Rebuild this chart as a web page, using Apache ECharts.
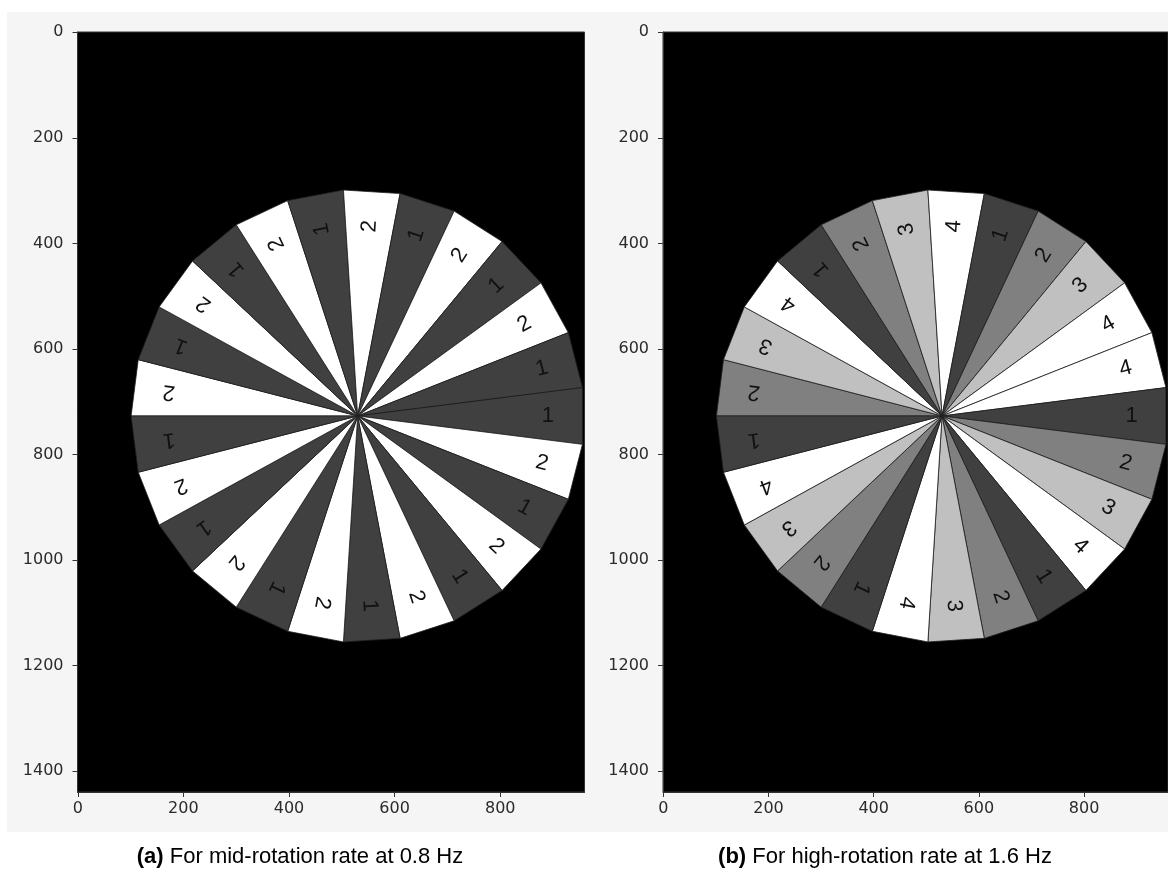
<!DOCTYPE html>
<html>
<head>
<meta charset="utf-8">
<script src="https://cdn.jsdelivr.net/npm/echarts@6/dist/echarts.min.js"></script>
<style>
  html, body { margin: 0; padding: 0; background: #ffffff; }
  #chart { width: 1168px; height: 874px; }
</style>
</head>
<body>
<div id="chart"></div>
<script>
// ---- data ----
// sector labels, clockwise (screen) starting at the left horizontal spoke
const sectorLabelsA = [2,1,2,1,2,1,2,1,2,1,2,1,1,2,1,2,1,2,1,2,1,2,1,2,1];
const sectorLabelsB = [2,3,4,1,2,3,4,1,2,3,4,4,1,2,3,4,1,2,3,4,1,2,3,4,1];
// grey level of each label value
const shadeA = {1: '#404040', 2: '#ffffff'};
const shadeB = {1: '#404040', 2: '#808080', 3: '#c0c0c0', 4: '#ffffff'};
// wheel geometry in image pixels
const wheelCenter = [530, 727];
const wheelRadius = 429;
const wheelStartAngle = 180;
const labelRadiusFraction = 0.84;
// image extent and tick labels
const imageWidth = 960;
const imageHeight = 1440;
const xTicks = [0, 200, 400, 600, 800];
const yTicks = [0, 200, 400, 600, 800, 1000, 1200, 1400];
const captionA = 'For mid-rotation rate at 0.8 Hz';
const captionB = 'For high-rotation rate at 1.6 Hz';

function makeRender(labels, shades) {
  return function (params, api) {
    const k = api.value(0);
    const lab = api.value(1);
    const n = labels.length;
    const step = 360 / n;
    const rad = Math.PI / 180;
    const a0 = (wheelStartAngle + step * k) * rad;
    const a1 = (wheelStartAngle + step * (k + 1)) * rad;
    const am = (a0 + a1) / 2;
    const cx = wheelCenter[0], cy = wheelCenter[1], R = wheelRadius;
    const c = api.coord([cx, cy]);
    const p0 = api.coord([cx + R * Math.cos(a0), cy + R * Math.sin(a0)]);
    const p1 = api.coord([cx + R * Math.cos(a1), cy + R * Math.sin(a1)]);
    const rl = R * labelRadiusFraction;
    const tp = api.coord([cx + rl * Math.cos(am), cy + rl * Math.sin(am)]);
    return {
      type: 'group',
      children: [
        {
          type: 'polygon',
          shape: { points: [c, p0, p1] },
          style: { fill: shades[lab], stroke: '#1e1e1e', lineWidth: 0.8 }
        },
        {
          type: 'text',
          x: tp[0], y: tp[1],
          rotation: -am,
          style: {
            text: String(lab),
            fill: '#111111',
            fontSize: 22,
            fontFamily: 'Liberation Sans',
            align: 'center', verticalAlign: 'middle',
            textAlign: 'center', textVerticalAlign: 'middle'
          }
        }
      ]
    };
  };
}

const tickFont = { fontFamily: 'DejaVu Sans', fontSize: 16, color: '#2b2b2b', formatter: function (v) { return String(v); } };

function makeXAxis(gi) {
  return {
    type: 'value', gridIndex: gi, position: 'bottom', min: -0.5, max: imageWidth - 0.5,
    axisLine: { show: true, onZero: false, lineStyle: { color: '#333', width: 1 } },
    axisTick: { show: true, inside: false, length: 5, customValues: xTicks, lineStyle: { color: '#333' } },
    axisLabel: Object.assign({ customValues: xTicks, margin: 9 }, tickFont),
    splitLine: { show: false }
  };
}
function makeYAxis(gi) {
  return {
    type: 'value', gridIndex: gi, position: 'left', inverse: true, min: -0.5, max: imageHeight - 0.5,
    axisLine: { show: true, onZero: false, lineStyle: { color: '#333', width: 1 } },
    axisTick: { show: true, inside: false, length: 5, customValues: yTicks, lineStyle: { color: '#333' } },
    axisLabel: Object.assign({ customValues: yTicks, margin: 14 }, tickFont),
    splitLine: { show: false }
  };
}

const chart = echarts.init(document.getElementById('chart'), null, { renderer: 'canvas' });
chart.setOption({
  backgroundColor: '#ffffff',
  animation: false,
  graphic: [
    { type: 'rect', z: -100, shape: { x: 7, y: 12, width: 1161, height: 820 }, style: { fill: '#f5f5f5' } },
    {
      type: 'text', z: 10, x: 300, y: 857,
      style: {
        text: '{b|(a)} ' + captionA,
        rich: { b: { fontWeight: 'bold', fontSize: 22, fontFamily: 'Liberation Sans', fill: '#000' } },
        fontSize: 22, fontFamily: 'Liberation Sans', fill: '#000',
        align: 'center', verticalAlign: 'middle'
      }
    },
    {
      type: 'text', z: 10, x: 885, y: 857,
      style: {
        text: '{b|(b)} ' + captionB,
        rich: { b: { fontWeight: 'bold', fontSize: 22, fontFamily: 'Liberation Sans', fill: '#000' } },
        fontSize: 22, fontFamily: 'Liberation Sans', fill: '#000',
        align: 'center', verticalAlign: 'middle'
      }
    }
  ],
  grid: [
    { left: 77.5, top: 32, width: 507, height: 760, show: true, backgroundColor: '#000000', borderColor: '#333', borderWidth: 1 },
    { left: 663, top: 32, width: 507, height: 760, show: true, backgroundColor: '#000000', borderColor: '#333', borderWidth: 1 }
  ],
  xAxis: [makeXAxis(0), makeXAxis(1)],
  yAxis: [makeYAxis(0), makeYAxis(1)],
  series: [
    {
      type: 'custom', xAxisIndex: 0, yAxisIndex: 0, clip: true,
      renderItem: makeRender(sectorLabelsA, shadeA),
      data: sectorLabelsA.map((v, i) => [i, v])
    },
    {
      type: 'custom', xAxisIndex: 1, yAxisIndex: 1, clip: true,
      renderItem: makeRender(sectorLabelsB, shadeB),
      data: sectorLabelsB.map((v, i) => [i, v])
    }
  ]
});
</script>
</body>
</html>
